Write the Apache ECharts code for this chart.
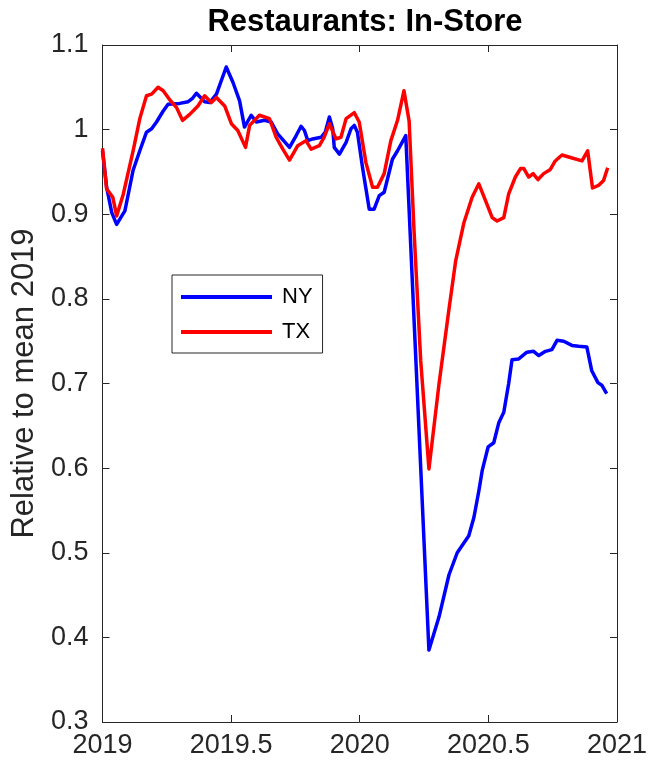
<!DOCTYPE html>
<html>
<head>
<meta charset="utf-8">
<script src="https://cdn.jsdelivr.net/npm/echarts@6/dist/echarts.min.js"></script>
<style>
  html, body { margin: 0; padding: 0; background: #ffffff; }
  #chart { width: 650px; height: 766px; }
</style>
</head>
<body>
<div id="chart"></div>
<script>
// Weekly in-store restaurant visits, relative to the 2019 mean
const nyYear = [2019.000, 2019.016, 2019.036, 2019.055, 2019.087, 2019.119, 2019.145, 2019.171, 2019.191, 2019.210,
  2019.236, 2019.255, 2019.300, 2019.333, 2019.350, 2019.365, 2019.384, 2019.397, 2019.417, 2019.443,
  2019.481, 2019.507, 2019.533, 2019.552, 2019.578, 2019.598, 2019.630, 2019.656, 2019.681, 2019.727,
  2019.753, 2019.772, 2019.785, 2019.798, 2019.817, 2019.850, 2019.866, 2019.882, 2019.895, 2019.901,
  2019.921, 2019.947, 2019.966, 2019.979, 2019.991, 2020.011, 2020.037, 2020.056, 2020.076, 2020.095,
  2020.127, 2020.147, 2020.179, 2020.269, 2020.308, 2020.347, 2020.379, 2020.424, 2020.444, 2020.463,
  2020.476, 2020.499, 2020.521, 2020.541, 2020.560, 2020.579, 2020.592, 2020.618, 2020.650, 2020.676,
  2020.696, 2020.722, 2020.747, 2020.767, 2020.793, 2020.825, 2020.851, 2020.883, 2020.902, 2020.926,
  2020.941, 2020.960];
const nyValue = [0.975, 0.932, 0.902, 0.888, 0.904, 0.952, 0.975, 0.997, 1.001, 1.009,
  1.022, 1.030, 1.031, 1.033, 1.037, 1.043, 1.037, 1.033, 1.032, 1.042,
  1.074, 1.056, 1.034, 1.003, 1.017, 1.009, 1.011, 1.009, 0.995, 0.979,
  0.993, 1.004, 0.999, 0.987, 0.989, 0.991, 0.997, 1.015, 1.001, 0.979,
  0.971, 0.985, 1.001, 1.005, 0.997, 0.955, 0.906, 0.906, 0.922, 0.926,
  0.965, 0.975, 0.993, 0.385, 0.424, 0.474, 0.500, 0.520, 0.542, 0.573,
  0.597, 0.625, 0.630, 0.654, 0.666, 0.700, 0.728, 0.729, 0.737, 0.738,
  0.733, 0.738, 0.740, 0.751, 0.750, 0.745, 0.744, 0.743, 0.715, 0.701,
  0.698, 0.688];

const txYear = [2019.000, 2019.016, 2019.040, 2019.055, 2019.081, 2019.119, 2019.145, 2019.171, 2019.191, 2019.216,
  2019.236, 2019.262, 2019.288, 2019.311, 2019.339, 2019.371, 2019.397, 2019.423, 2019.443, 2019.475,
  2019.501, 2019.526, 2019.556, 2019.572, 2019.610, 2019.649, 2019.675, 2019.701, 2019.727, 2019.759,
  2019.791, 2019.811, 2019.843, 2019.862, 2019.882, 2019.908, 2019.927, 2019.947, 2019.979, 2019.998,
  2020.024, 2020.050, 2020.069, 2020.095, 2020.121, 2020.147, 2020.172, 2020.192, 2020.211, 2020.237,
  2020.269, 2020.308, 2020.347, 2020.373, 2020.405, 2020.437, 2020.463, 2020.489, 2020.515, 2020.534,
  2020.560, 2020.579, 2020.605, 2020.625, 2020.638, 2020.657, 2020.674, 2020.693, 2020.715, 2020.741,
  2020.760, 2020.786, 2020.819, 2020.864, 2020.886, 2020.905, 2020.928, 2020.948, 2020.964];
const txValue = [0.978, 0.930, 0.920, 0.898, 0.924, 0.975, 1.013, 1.040, 1.042, 1.050,
  1.046, 1.035, 1.026, 1.011, 1.018, 1.028, 1.040, 1.032, 1.038, 1.028,
  1.007, 0.999, 0.979, 1.005, 1.017, 1.013, 0.991, 0.977, 0.964, 0.981,
  0.987, 0.977, 0.981, 0.991, 1.007, 0.989, 0.991, 1.013, 1.020, 1.009,
  0.961, 0.932, 0.932, 0.948, 0.987, 1.011, 1.046, 1.010, 0.881, 0.727,
  0.599, 0.699, 0.788, 0.845, 0.890, 0.920, 0.936, 0.916, 0.896, 0.892,
  0.896, 0.924, 0.944, 0.954, 0.954, 0.944, 0.948, 0.941, 0.948, 0.953,
  0.963, 0.970, 0.967, 0.963, 0.975, 0.931, 0.934, 0.940, 0.955];

const seriesNames = ['NY', 'TX'];
const seriesColors = ['#0000ff', '#ff0000'];
const chartTitle = 'Restaurants: In-Store';
const yAxisTitle = 'Relative to mean 2019';

const ink = '#262626';
const fontFamily = '"Liberation Sans", Arial, Helvetica, sans-serif';

const pairs = (xs, ys) => xs.map((x, i) => [x, ys[i]]);
const trimNum = v => String(parseFloat(v.toFixed(2)));

const chart = echarts.init(document.getElementById('chart'), null, { renderer: 'canvas' });

const tickStyle = { show: true, inside: true, length: 7, lineStyle: { color: ink, width: 1 } };
const lineStyle = { show: true, lineStyle: { color: ink, width: 1 } };

chart.setOption({
  animation: false,
  backgroundColor: '#ffffff',
  title: {
    text: chartTitle,
    left: 360,
    textAlign: 'center',
    top: 2,
    textStyle: { fontFamily, fontWeight: 'bold', fontSize: 31, color: '#000000' }
  },
  grid: { left: 102.5, right: 31.5, top: 45, bottom: 44, containLabel: false },
  legend: {
    orient: 'vertical',
    left: 172,
    top: 275,
    icon: 'rect',
    itemWidth: 91,
    itemHeight: 4,
    itemGap: 13,
    padding: [11, 10, 10, 9],
    borderColor: ink,
    borderWidth: 1,
    backgroundColor: '#ffffff',
    data: seriesNames,
    textStyle: { fontFamily, fontSize: 22, color: '#000000', lineHeight: 20, padding: [0, 0, 0, 5] }
  },
  xAxis: [
    {
      type: 'value', min: 2019, max: 2021, interval: 0.5, position: 'bottom',
      splitLine: { show: false }, axisLine: lineStyle, axisTick: tickStyle,
      axisLabel: { color: ink, fontFamily, fontSize: 27, margin: 10, formatter: trimNum }
    },
    {
      type: 'value', min: 2019, max: 2021, interval: 0.5, position: 'top',
      splitLine: { show: false }, axisLine: lineStyle, axisTick: tickStyle,
      axisLabel: { show: false }
    }
  ],
  yAxis: [
    {
      type: 'value', min: 0.3, max: 1.1, interval: 0.1, position: 'left',
      splitLine: { show: false }, axisLine: lineStyle, axisTick: tickStyle,
      axisLabel: { color: ink, fontFamily, fontSize: 27, margin: 14, formatter: trimNum },
      name: yAxisTitle, nameLocation: 'middle', nameRotate: 90, nameGap: 63,
      nameMoveOverlap: false,
      nameTextStyle: { color: ink, fontFamily, fontSize: 31 }
    },
    {
      type: 'value', min: 0.3, max: 1.1, interval: 0.1, position: 'right',
      splitLine: { show: false }, axisLine: lineStyle, axisTick: tickStyle,
      axisLabel: { show: false }
    }
  ],
  series: [
    {
      name: seriesNames[0], type: 'line', data: pairs(nyYear, nyValue),
      showSymbol: false, symbol: 'none', color: seriesColors[0],
      lineStyle: { color: seriesColors[0], width: 3.5, join: 'round' }, z: 2
    },
    {
      name: seriesNames[1], type: 'line', data: pairs(txYear, txValue),
      showSymbol: false, symbol: 'none', color: seriesColors[1],
      lineStyle: { color: seriesColors[1], width: 3.5, join: 'round' }, z: 3
    }
  ]
});
</script>
</body>
</html>
